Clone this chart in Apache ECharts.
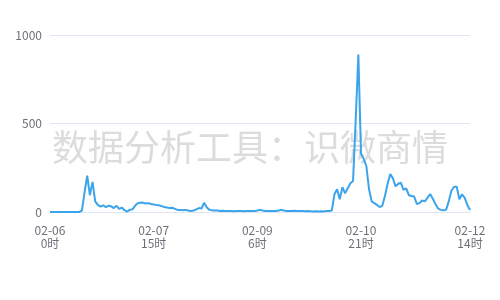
<!DOCTYPE html>
<html>
<head>
<meta charset="utf-8">
<script src="https://cdn.jsdelivr.net/npm/echarts@6/dist/echarts.min.js"></script>
<style>html,body{margin:0;padding:0;background:#fff}#c{width:500px;height:300px}</style>
</head>
<body>
<div id="c"></div>
<script>
// Hourly categories from 02-06 0时 to 02-12 14时
const days = ['02-06', '02-07', '02-08', '02-09', '02-10', '02-11', '02-12'];
const lastDayHours = 14;
const categories = [];
days.forEach(function (d, di) {
  const maxH = di === days.length - 1 ? lastDayHours : 23;
  for (let h = 0; h <= maxH; h++) categories.push(d + '\n' + h + '时');
});

const values = [
  0,0,0,0,0,0,0,0,0,0,0,0,
  8,110,205,95,170,60,40,30,38,28,35,32,
  22,35,18,25,10,2,12,15,35,50,53,52,48,50,45,43,
  40,38,33,28,25,22,24,18,12,12,10,12,8,5,8,15,
  22,20,52,25,12,10,8,
  8,6,7,5,6,5,4,5,6,5,4,5,6,5,6,8,12,8,6,5,6,5,6,8,12,8,6,5,6,7,5,6,5,4,5,4,3,4,3,4,3,5,6,
  8,100,128,72,140,105,134,162,175,520,890,330,300,260,130,60,
  50,40,28,35,90,160,215,190,145,160,165,125,134,95,90,87,
  45,50,65,60,80,102,75,45,20,12,10,12,60,120,143,143,
  72,100,80,40,11
];

const yTicks = { min: 0, max: 1000, interval: 500 };
const watermark = '数据分析工具：识微商情';

const chart = echarts.init(document.getElementById('c'));
chart.setOption({
  animation: false,
  grid: { left: 50, right: 30, top: 35, bottom: 88 },
  graphic: [{
    type: 'text',
    left: 'center',
    top: 129,
    z: 0,
    style: {
      text: watermark,
      fontSize: 36,
      fontFamily: 'Noto Sans CJK SC',
      fill: '#dcdcdc'
    }
  }],
  xAxis: {
    type: 'category',
    data: categories,
    boundaryGap: false,
    axisLine: { lineStyle: { color: '#E0E6F1' } },
    axisTick: { show: false },
    axisLabel: {
      color: '#6E7079',
      fontSize: 12,
      lineHeight: 13,
      margin: 12,
      fontFamily: 'Noto Sans CJK SC',
      interval: function (i) { return (i % 39 === 0 && i < 150) || i === categories.length - 1; }
    }
  },
  yAxis: {
    type: 'value',
    min: yTicks.min,
    max: yTicks.max,
    interval: yTicks.interval,
    axisLabel: {
      color: '#6E7079', fontSize: 12, fontFamily: 'Noto Sans CJK SC',
      formatter: function (v) { return String(v); }
    },
    splitLine: { lineStyle: { color: '#E0E6F1' } }
  },
  series: [{
    type: 'line',
    data: values,
    showSymbol: false,
    symbol: 'none',
    z: 3,
    lineStyle: { color: '#3BA4EA', width: 2 },
    itemStyle: { color: '#3BA4EA' }
  }]
});
</script>
</body>
</html>
